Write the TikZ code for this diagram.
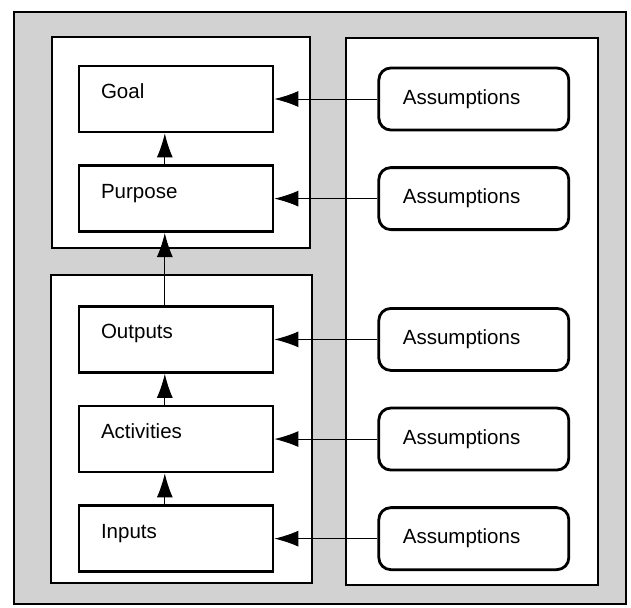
\documentclass[tikz,border=0pt]{standalone}
\usepackage{fontspec}
\setmainfont{Liberation Sans}
\usetikzlibrary{arrows.meta, positioning}

\begin{document}
\begin{tikzpicture}[
  font=\fontsize{14.6}{16}\selectfont,
  stage/.style={draw, line width=2pt, minimum width=4.85cm, minimum height=1.65cm,
    text width=3.75cm, inner xsep=0.55cm, align=left, text depth=0.38cm},
  assume/.style={draw, line width=2pt, rounded corners=0.3cm,
    minimum width=4.75cm, minimum height=1.55cm,
    text width=3.55cm, inner xsep=0.6cm, align=left},
  link/.style={line width=0.7pt, -{Latex[length=6mm,width=4mm]}}]
  \useasboundingbox (0,0) rectangle (15.775,15.175);
  \fill[white] (0,0) rectangle (15.775,15.175);

  % panels
  \draw[fill=gray!35, line width=1pt] (0.35,0.08) rectangle (15.65,14.875);
  \draw[fill=white, line width=1pt] (1.3,8.975) rectangle (7.75,14.25);
  \draw[fill=white, line width=1pt] (1.275,0.6) rectangle (7.8,8.3);
  \draw[fill=white, line width=1pt] (8.65,0.55) rectangle (14.95,14.225);

  \node[stage] (goal) at (4.4,12.7) {Goal};
  \node[stage, below=0.77cm of goal] (purpose) {Purpose};
  \node[stage, below=1.8cm of purpose] (outputs) {Outputs};
  \node[stage, below=0.77cm of outputs] (activities) {Activities};
  \node[stage, below=0.77cm of activities] (inputs) {Inputs};

  \foreach \n in {goal,purpose,outputs,activities,inputs} {
    \node[assume, right=2.575cm of \n] (\n-a) {Assumptions};
    \draw[link] (\n-a) -- (\n);
  }

  \draw[link] ([xshift=-0.28cm]purpose.north) -- ([xshift=-0.28cm]goal.south);
  \draw[link] ([xshift=-0.28cm]outputs.north) -- ([xshift=-0.28cm]purpose.south);
  \draw[link] ([xshift=-0.28cm]activities.north) -- ([xshift=-0.28cm]outputs.south);
  \draw[link] ([xshift=-0.28cm]inputs.north) -- ([xshift=-0.28cm]activities.south);
\end{tikzpicture}
\end{document}
